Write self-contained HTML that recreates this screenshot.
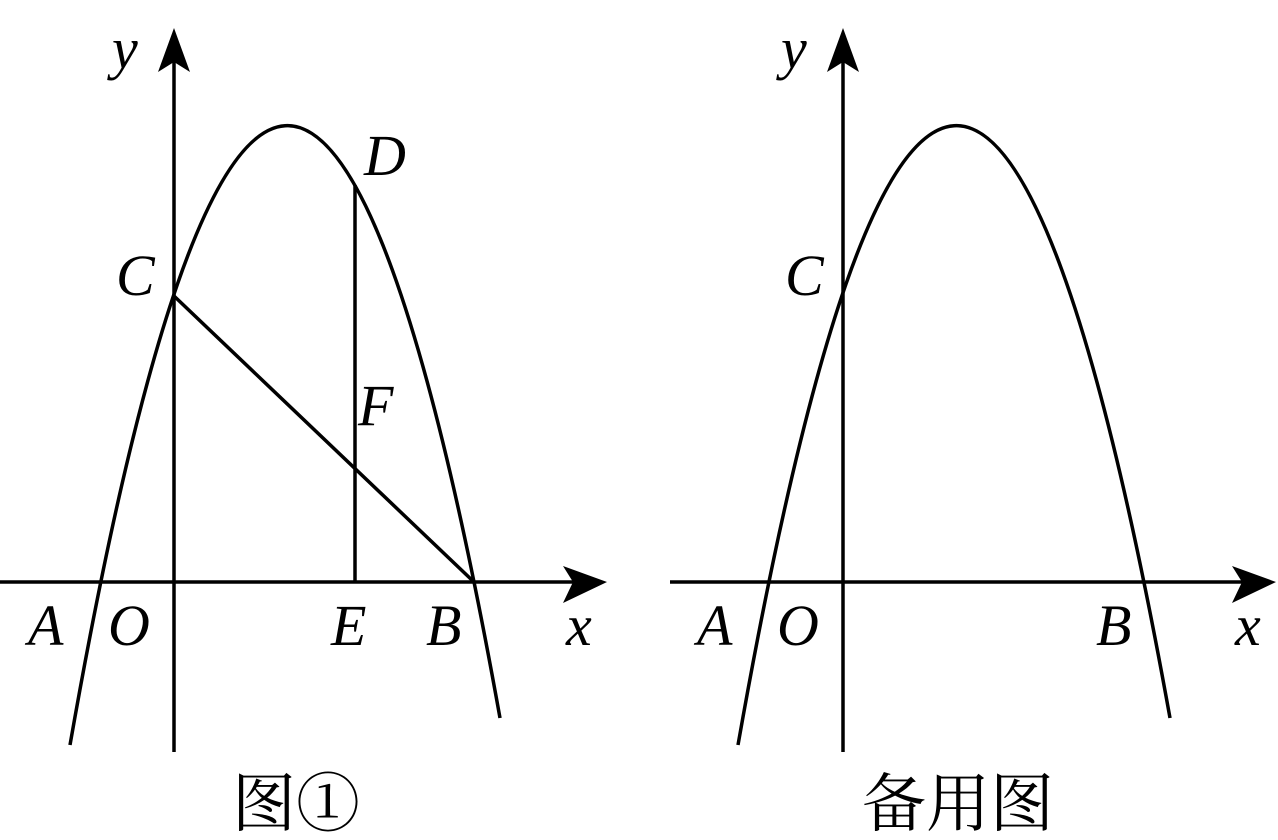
<!DOCTYPE html>
<html><head><meta charset="utf-8"><style>
html,body{margin:0;padding:0;background:#fff;}
svg{display:block}
text{font-family:"Liberation Serif","Noto Serif CJK SC",serif;font-style:italic;font-size:58px;fill:#000}
.cn{font-family:"Noto Serif CJK SC","Noto Sans CJK SC",serif;font-style:normal;font-size:64px}
</style></head><body>
<svg width="1278" height="840" viewBox="0 0 1278 840" xmlns="http://www.w3.org/2000/svg">
<g stroke="#000" stroke-width="3.5" fill="none">
<line x1="0" y1="582" x2="590" y2="582"/>
<line x1="174" y1="752" x2="174" y2="45"/>
<path d="M70,745 Q285,-480 500,718"/>
<line x1="174" y1="296" x2="474" y2="582"/>
<line x1="355" y1="185" x2="355" y2="582"/>
<line x1="670" y1="582" x2="1258" y2="582"/>
<line x1="843" y1="752" x2="843" y2="45"/>
<path d="M738,745 Q954,-480 1170,718"/>
</g>
<g fill="#000">
<path d="M607,582 L563,566 L573,582 L563,603 Z"/>
<path d="M1276,582 L1232,566 L1242,582 L1232,603 Z"/>
<path d="M174,28 L158,72 L174,62 L190,72 Z"/>
<path d="M843,28 L827,72 L843,62 L859,72 Z"/>
</g>
<text x="112" y="68">y</text>
<text x="116" y="295">C</text>
<text x="364" y="175">D</text>
<text x="358" y="425">F</text>
<text x="28" y="645">A</text>
<text x="108" y="645">O</text>
<text x="331" y="645">E</text>
<text x="426" y="645">B</text>
<text x="566" y="645">x</text>
<text x="781" y="68">y</text>
<text x="785" y="295">C</text>
<text x="697" y="645">A</text>
<text x="777" y="645">O</text>
<text x="1096" y="645">B</text>
<text x="1235" y="645">x</text>
<text class="cn" x="232" y="826">图①</text>
<text class="cn" x="862" y="826">备用图</text>
</svg>
</body></html>
